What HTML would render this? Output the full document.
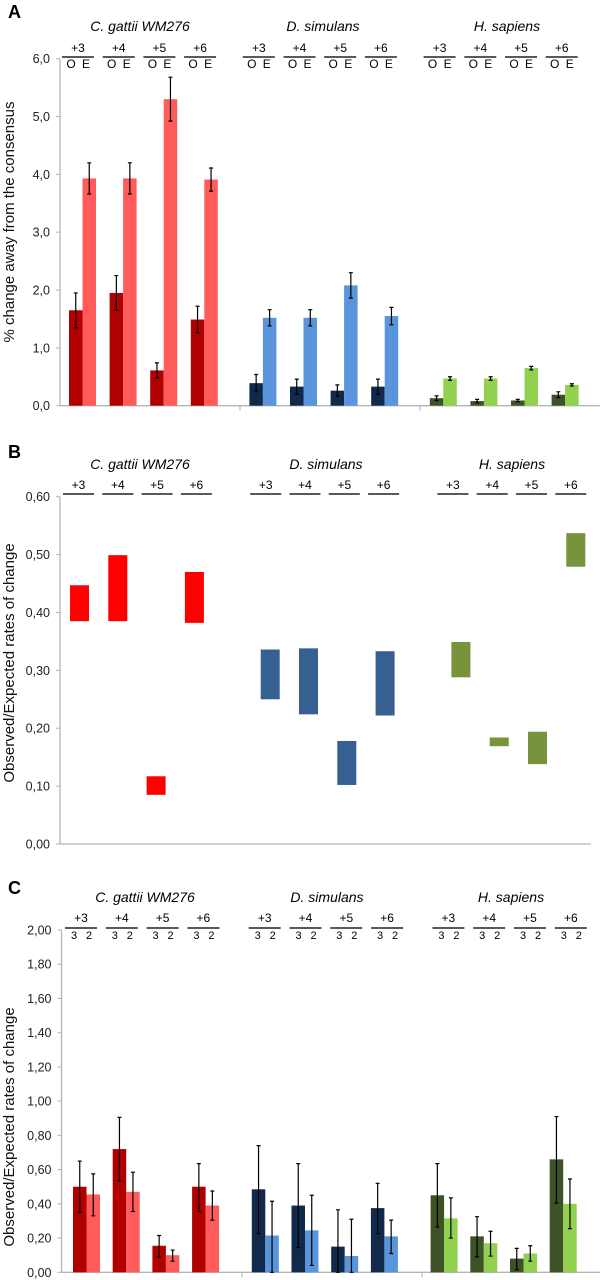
<!DOCTYPE html>
<html><head><meta charset="utf-8"><style>
html,body{margin:0;padding:0;background:#fff;}
svg{display:block;font-family:"Liberation Sans",Arial,sans-serif;}
</style></head><body>
<svg id="fig" width="602" height="1280" viewBox="0 0 602 1280" xmlns="http://www.w3.org/2000/svg">
<g id="root"></g>
</svg>
<script>
// ---------- data ----------
const species = ["C. gattii WM276", "D. simulans", "H. sapiens"];
const positions = ["+3", "+4", "+5", "+6"];
// Panel A: observed / expected % change with error half-widths
const aObs = [1.65, 1.95, 0.61, 1.49, 0.39, 0.33, 0.26, 0.33, 0.13, 0.08, 0.09, 0.19];
const aObsErr = [0.30, 0.30, 0.13, 0.23, 0.15, 0.13, 0.10, 0.13, 0.04, 0.03, 0.02, 0.05];
const aExp = [3.93, 3.93, 5.30, 3.91, 1.52, 1.52, 2.08, 1.55, 0.47, 0.47, 0.65, 0.36];
const aExpErr = [0.27, 0.27, 0.38, 0.20, 0.14, 0.14, 0.22, 0.15, 0.03, 0.03, 0.03, 0.02];
const aTicks = ["0,0", "1,0", "2,0", "3,0", "4,0", "5,0", "6,0"];
// Panel B: ranges of observed/expected
const bLow = [0.385, 0.385, 0.085, 0.382, 0.250, 0.224, 0.102, 0.222, 0.288, 0.169, 0.138, 0.479];
const bHigh = [0.447, 0.499, 0.117, 0.470, 0.336, 0.338, 0.178, 0.333, 0.349, 0.184, 0.194, 0.537];
const bTicks = ["0,00", "0,10", "0,20", "0,30", "0,40", "0,50", "0,60"];
// Panel C: 3-codon vs 2-codon ratios with error ranges
const c3 = [0.50, 0.72, 0.155, 0.50, 0.485, 0.39, 0.15, 0.375, 0.45, 0.21, 0.08, 0.66];
const c3Lo = [0.35, 0.535, 0.09, 0.355, 0.225, 0.145, 0.0, 0.225, 0.265, 0.09, 0.015, 0.405];
const c3Hi = [0.65, 0.905, 0.215, 0.635, 0.74, 0.635, 0.365, 0.52, 0.635, 0.325, 0.14, 0.91];
const c2 = [0.455, 0.47, 0.10, 0.39, 0.215, 0.245, 0.095, 0.21, 0.315, 0.17, 0.11, 0.40];
const c2Lo = [0.33, 0.355, 0.065, 0.305, 0.0, 0.04, 0.0, 0.11, 0.20, 0.095, 0.065, 0.255];
const c2Hi = [0.575, 0.585, 0.13, 0.475, 0.415, 0.45, 0.31, 0.305, 0.435, 0.24, 0.155, 0.545];
const cTicks = ["0,00", "0,20", "0,40", "0,60", "0,80", "1,00", "1,20", "1,40", "1,60", "1,80", "2,00"];

const darkCol = ["#b00000", "#112a4c", "#3d5226"];
const lightCol = ["#ff5b5b", "#5a94da", "#92d050"];
const bCol = ["#ff0000", "#366092", "#77933c"];

// ---------- helpers ----------
const NS = "http://www.w3.org/2000/svg";
const root = document.getElementById("root");
function mk(tag, attrs, parent, text) {
  const e = document.createElementNS(NS, tag);
  for (const k in attrs) e.setAttribute(k, attrs[k]);
  if (text !== undefined) e.textContent = text;
  (parent || root).appendChild(e);
  return e;
}
function errBar(g, x, y1, y2, cap) {
  const eb = mk("path", {d: `M${x-cap},${y1}H${x+cap}M${x},${y1}V${y2}M${x-cap},${y2}H${x+cap}`, stroke: "#000", "stroke-width": 1.2, fill: "none"}, g);
  
  
}

function panel(opts) {
  const g = mk("g", {});
  
  
  const yScale = v => opts.y0 - (v / opts.max) * (opts.y0 - opts.yTop);
  const xCat = i => opts.x0 + i * opts.slot + Math.floor(i / 4) * opts.gap;
  // letter
  const L = mk("text", {x: 8, y: opts.letterY, "font-size": 18, "font-weight": "bold"}, g, opts.letter);
  
  
  // axes
  const ya = mk("line", {x1: opts.axX, y1: opts.yTop, x2: opts.axX, y2: opts.y0, stroke: "#b5b5b5", "stroke-width": 1.3}, g);
  
  
  const xa = mk("line", {x1: opts.axX, y1: opts.y0, x2: opts.axEnd, y2: opts.y0, stroke: "#b5b5b5", "stroke-width": 1.3}, g);
  
  
  opts.ticks.forEach((t, k) => {
    const v = k * opts.max / (opts.ticks.length - 1);
    const y = yScale(v);
    mk("line", {x1: opts.axX - 4, y1: y, x2: opts.axX, y2: y, stroke: "#b5b5b5"}, g);
    const tl = mk("text", {x: opts.axX - 10, y: y + 4.5, "font-size": 12.5, "text-anchor": "end", fill: "#222"}, g, t);
    
    
  });
  if (opts.seps) opts.seps.forEach(sx => mk("line", {x1: sx, y1: opts.y0, x2: sx, y2: opts.y0 + 5, stroke: "#b5b5b5"}, g));
  // y title
  const yt = mk("text", {transform: `translate(${opts.ytX},${opts.ytY}) rotate(-90)`, "font-size": 15, "text-anchor": "middle", fill: "#111"}, g, opts.ytitle);
  
  
  // species titles & headers
  species.forEach((s, k) => {
    const st = mk("text", {x: opts.spX[k], y: opts.spY, "font-size": 14, "font-style": "italic", "text-anchor": "middle"}, g, s);
    
    
  });
  for (let i = 0; i < 12; i++) {
    const lx = opts.lx0 + i * opts.lslot + Math.floor(i / 4) * opts.lgap;
    const cx = lx + opts.lw / 2;
    const pl = mk("text", {x: cx, y: opts.plusY, "font-size": 12, "text-anchor": "middle"}, g, positions[i % 4]);
    
    
    mk("line", {x1: lx, y1: opts.lineY, x2: lx + opts.lw, y2: opts.lineY, stroke: "#222", "stroke-width": 1.5}, g);
    if (opts.subLabels) {
      const s1 = mk("text", {x: cx - 7, y: opts.lineY + 11, "font-size": opts.subSize, "text-anchor": "middle"}, g, opts.subLabels[0]);
      
      
      const s2 = mk("text", {x: cx + 8, y: opts.lineY + 11, "font-size": opts.subSize, "text-anchor": "middle"}, g, opts.subLabels[1]);
      
      
    }
  }
  return {g, yScale, xCat};
}

// ---------- Panel A ----------
(function(){
  const P = panel({name: "panel-a", letter: "A", letterY: 18, axX: 60, axEnd: 600, yTop: 58.7, y0: 405.7, max: 6,
    ticks: aTicks, seps: [240, 420], ytitle: "% change away from the consensus", ytX: 14, ytY: 222,
    spX: [140, 323, 507], spY: 31, plusY: 52, lineY: 57, lx0: 62, lslot: 40.7, lgap: 18, lw: 32,
    subLabels: ["O", "E"], subSize: 12, x0: 69, slot: 40.6, gap: 18, });
  const bw = 13.5;
  for (let i = 0; i < 12; i++) {
    const sp = Math.floor(i / 4), x = P.xCat(i);
    const yo = P.yScale(aObs[i]), ye = P.yScale(aExp[i]);
    const r1 = mk("rect", {x: x, y: yo, width: bw, height: P.yScale(0) - yo, fill: darkCol[sp]}, P.g);
    
    
    const r2 = mk("rect", {x: x + bw, y: ye, width: bw, height: P.yScale(0) - ye, fill: lightCol[sp]}, P.g);
    
    
    errBar(P.g, x + bw / 2, P.yScale(aObs[i] + aObsErr[i]), P.yScale(aObs[i] - aObsErr[i]), 2);
    errBar(P.g, x + bw * 1.5, P.yScale(aExp[i] + aExpErr[i]), P.yScale(aExp[i] - aExpErr[i]), 2);
  }
})();

// ---------- Panel B ----------
(function(){
  const P = panel({name: "panel-b", letter: "B", letterY: 458, axX: 60, axEnd: 591, yTop: 496.7, y0: 844, max: 0.6,
    ticks: bTicks, seps: null, ytitle: "Observed/Expected rates of change", ytX: 14, ytY: 663,
    spX: [140, 326, 512], spY: 469, plusY: 489, lineY: 494, lx0: 63, lslot: 39.3, lgap: 30, lw: 31,
    subLabels: null, x0: 70, slot: 38.3, gap: 37.5 });
  for (let i = 0; i < 12; i++) {
    const sp = Math.floor(i / 4), x = P.xCat(i);
    const yh = P.yScale(bHigh[i]), yl = P.yScale(bLow[i]);
    const r = mk("rect", {x: x, y: yh, width: 19, height: yl - yh, fill: bCol[sp]}, P.g);
    
    
  }
})();

// ---------- Panel C ----------
(function(){
  const P = panel({name: "panel-c", letter: "C", letterY: 894, axX: 61.5, axEnd: 600, yTop: 930, y0: 1272.3, max: 2,
    ticks: cTicks, seps: [242, 422], ytitle: "Observed/Expected rates of change", ytX: 14, ytY: 1127,
    spX: [145, 327, 511], spY: 902, plusY: 922, lineY: 928, lx0: 65, lslot: 40.8, lgap: 20.5, lw: 32,
    subLabels: ["3", "2"], subSize: 11, x0: 73, slot: 39.7, gap: 20 });
  const bw = 13.5;
  for (let i = 0; i < 12; i++) {
    const sp = Math.floor(i / 4), x = P.xCat(i);
    const y3 = P.yScale(c3[i]), y2 = P.yScale(c2[i]);
    const r1 = mk("rect", {x: x, y: y3, width: bw, height: P.yScale(0) - y3, fill: darkCol[sp]}, P.g);
    
    
    const r2 = mk("rect", {x: x + bw, y: y2, width: bw, height: P.yScale(0) - y2, fill: lightCol[sp]}, P.g);
    
    
    errBar(P.g, x + bw / 2, P.yScale(c3Hi[i]), P.yScale(c3Lo[i]), 2);
    errBar(P.g, x + bw * 1.5, P.yScale(c2Hi[i]), P.yScale(c2Lo[i]), 2);
  }
})();
</script>
</body></html>
